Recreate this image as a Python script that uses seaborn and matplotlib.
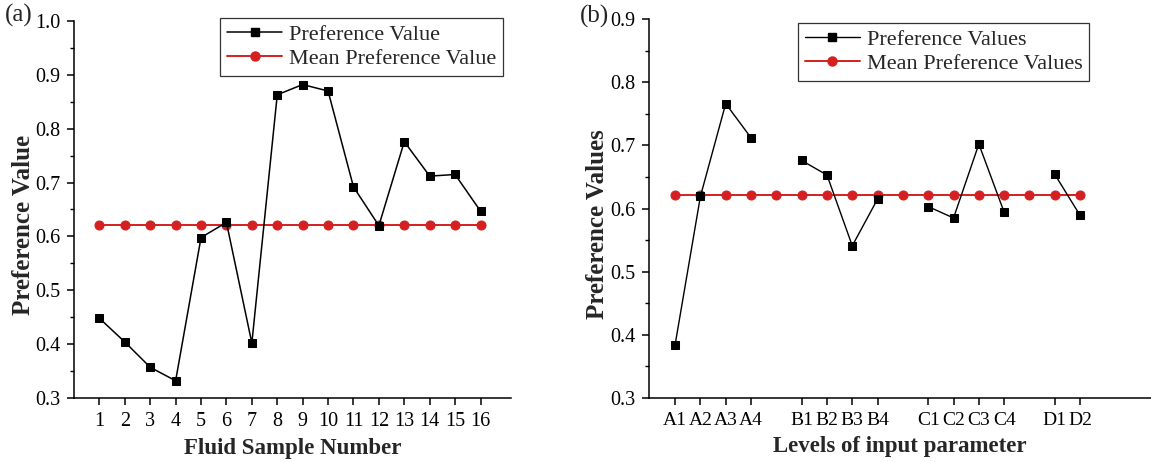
import numpy as np
import pandas as pd
import matplotlib
matplotlib.use("Agg")
import matplotlib.pyplot as plt
from matplotlib.lines import Line2D
from matplotlib.ticker import MultipleLocator
import seaborn as sns

# ---- data: panel (a)
samples = list(range(1, 17))
pref_a = [0.448, 0.404, 0.357, 0.332, 0.598, 0.626, 0.402, 0.863,
          0.882, 0.870, 0.692, 0.620, 0.776, 0.712, 0.715, 0.647]
mean_a = 0.621

# ---- data: panel (b)
levels = ["A1", "A2", "A3", "A4", "B1", "B2", "B3", "B4",
          "C1", "C2", "C3", "C4", "D1", "D2"]
level_group = ["A", "A", "A", "A", "B", "B", "B", "B",
               "C", "C", "C", "C", "D", "D"]
level_pos = [1, 2, 3, 4, 6, 7, 8, 9, 11, 12, 13, 14, 16, 17]
pref_b = [0.384, 0.619, 0.766, 0.712, 0.676, 0.653, 0.541, 0.615,
          0.603, 0.585, 0.702, 0.594, 0.654, 0.589]
mean_positions_b = list(range(1, 18))
mean_b = 0.621

sns.set_theme(style="ticks")
plt.rcParams["font.family"] = ["Liberation Serif", "DejaVu Serif"]
plt.rcParams["axes.linewidth"] = 1.1

W, H = 1151, 462
fig = plt.figure(figsize=(W / 100, H / 100), dpi=100)

RED = "#d42020"

def style_axes(ax):
    for s in ["top", "right"]:
        ax.spines[s].set_visible(False)
    for s in ["left", "bottom"]:
        ax.spines[s].set_color("black")
    ax.tick_params(axis="both", which="major", direction="out", length=5,
                   width=1.1, colors="black", pad=5)
    ax.tick_params(axis="y", labelsize=14.5)
    ax.tick_params(axis="x", labelsize=14.5)
    ax.tick_params(axis="y", which="minor", direction="out", length=3,
                   width=1.0, colors="black")
    ax.yaxis.set_minor_locator(MultipleLocator(0.05))
    ax.grid(False)

LEG_KW = dict(fontsize=16, frameon=True, fancybox=False, edgecolor="black",
              handlelength=2.5, borderpad=0.3, labelspacing=0.15,
              handletextpad=0.3, borderaxespad=0.0)

# ---- panel (a)
ax1 = fig.add_axes([74 / W, 1 - 398 / H, (511 - 74) / W, (398 - 21) / H])
df_a = pd.DataFrame({"x": samples, "y": pref_a})
df_am = pd.DataFrame({"x": samples, "y": [mean_a] * len(samples)})
sns.lineplot(data=df_am, x="x", y="y", ax=ax1, color=RED, lw=1.4,
             marker="o", markersize=6.5, markeredgecolor=RED, zorder=2)
sns.lineplot(data=df_a, x="x", y="y", ax=ax1, color="black", lw=1.1,
             marker="s", markersize=5.5, markeredgecolor="black", zorder=3)
ax1.set_xlim(0.0, 17.2)
ax1.set_ylim(0.3, 1.0)
ax1.set_xticks(samples)
ax1.set_yticks(np.round(np.arange(0.3, 1.01, 0.1), 1))
ax1.set_yticklabels([f"{v:.1f}" for v in np.arange(0.3, 1.01, 0.1)])
style_axes(ax1)
ax1.set_xlabel("Fluid Sample Number", fontsize=16.5, fontweight="bold", labelpad=5)
ax1.set_ylabel("Preference Value", fontsize=18, fontweight="bold")
ax1.yaxis.set_label_coords((35 - 74) / 437, 0.46)
h1 = [Line2D([], [], color="black", lw=1.1, marker="s", markersize=5.5),
      Line2D([], [], color=RED, lw=1.4, marker="o", markersize=6.5)]
leg1 = ax1.legend(h1, ["Preference Value", "Mean Preference Value"],
                  loc="upper right", bbox_to_anchor=(1.0 - 8 / 437, 1.0 + 3 / 377),
                  **LEG_KW)
leg1.get_frame().set_linewidth(0.9)
fig.text(5 / W, 1 - 15 / H, "(a)", fontsize=18, va="center", ha="left")

# ---- panel (b)
ax2 = fig.add_axes([649 / W, 1 - 398 / H, (W - 649) / W, (398 - 19) / H])
df_b = pd.DataFrame({"x": level_pos, "y": pref_b, "g": level_group})
df_bm = pd.DataFrame({"x": mean_positions_b, "y": [mean_b] * len(mean_positions_b)})
sns.lineplot(data=df_bm, x="x", y="y", ax=ax2, color=RED, lw=1.4,
             marker="o", markersize=6.5, markeredgecolor=RED, zorder=2)
sns.lineplot(data=df_b, x="x", y="y", units="g", estimator=None, ax=ax2,
             color="black", lw=1.0, marker="s", markersize=5.5,
             markeredgecolor="black", zorder=3, legend=False)
ax2.set_xlim(-0.03, 19.8)
ax2.set_ylim(0.3, 0.9)
ax2.set_xticks(level_pos)
ax2.set_xticklabels(levels)
ax2.set_yticks(np.round(np.arange(0.3, 0.91, 0.1), 1))
ax2.set_yticklabels([f"{v:.1f}" for v in np.arange(0.3, 0.91, 0.1)])
style_axes(ax2)
ax2.tick_params(axis="x", labelsize=14)
ax2.set_xlabel("Levels of input parameter", fontsize=16.5, fontweight="bold", labelpad=5)
ax2.set_ylabel("Preference Values", fontsize=18, fontweight="bold")
ax2.yaxis.set_label_coords((609 - 649) / 502, 0.46)
h2 = [Line2D([], [], color="black", lw=1.0, marker="s", markersize=5.5),
      Line2D([], [], color=RED, lw=1.4, marker="o", markersize=6.5)]
leg2 = ax2.legend(h2, ["Preference Values", "Mean Preference Values"],
                  loc="upper left",
                  bbox_to_anchor=((798 - 649) / (W - 649), 1.0 - 4 / 379),
                  **LEG_KW)
leg2.get_frame().set_linewidth(0.9)
fig.text(580 / W, 1 - 16 / H, "(b)", fontsize=18, va="center", ha="left")

fig.savefig("out.png", dpi=100)
